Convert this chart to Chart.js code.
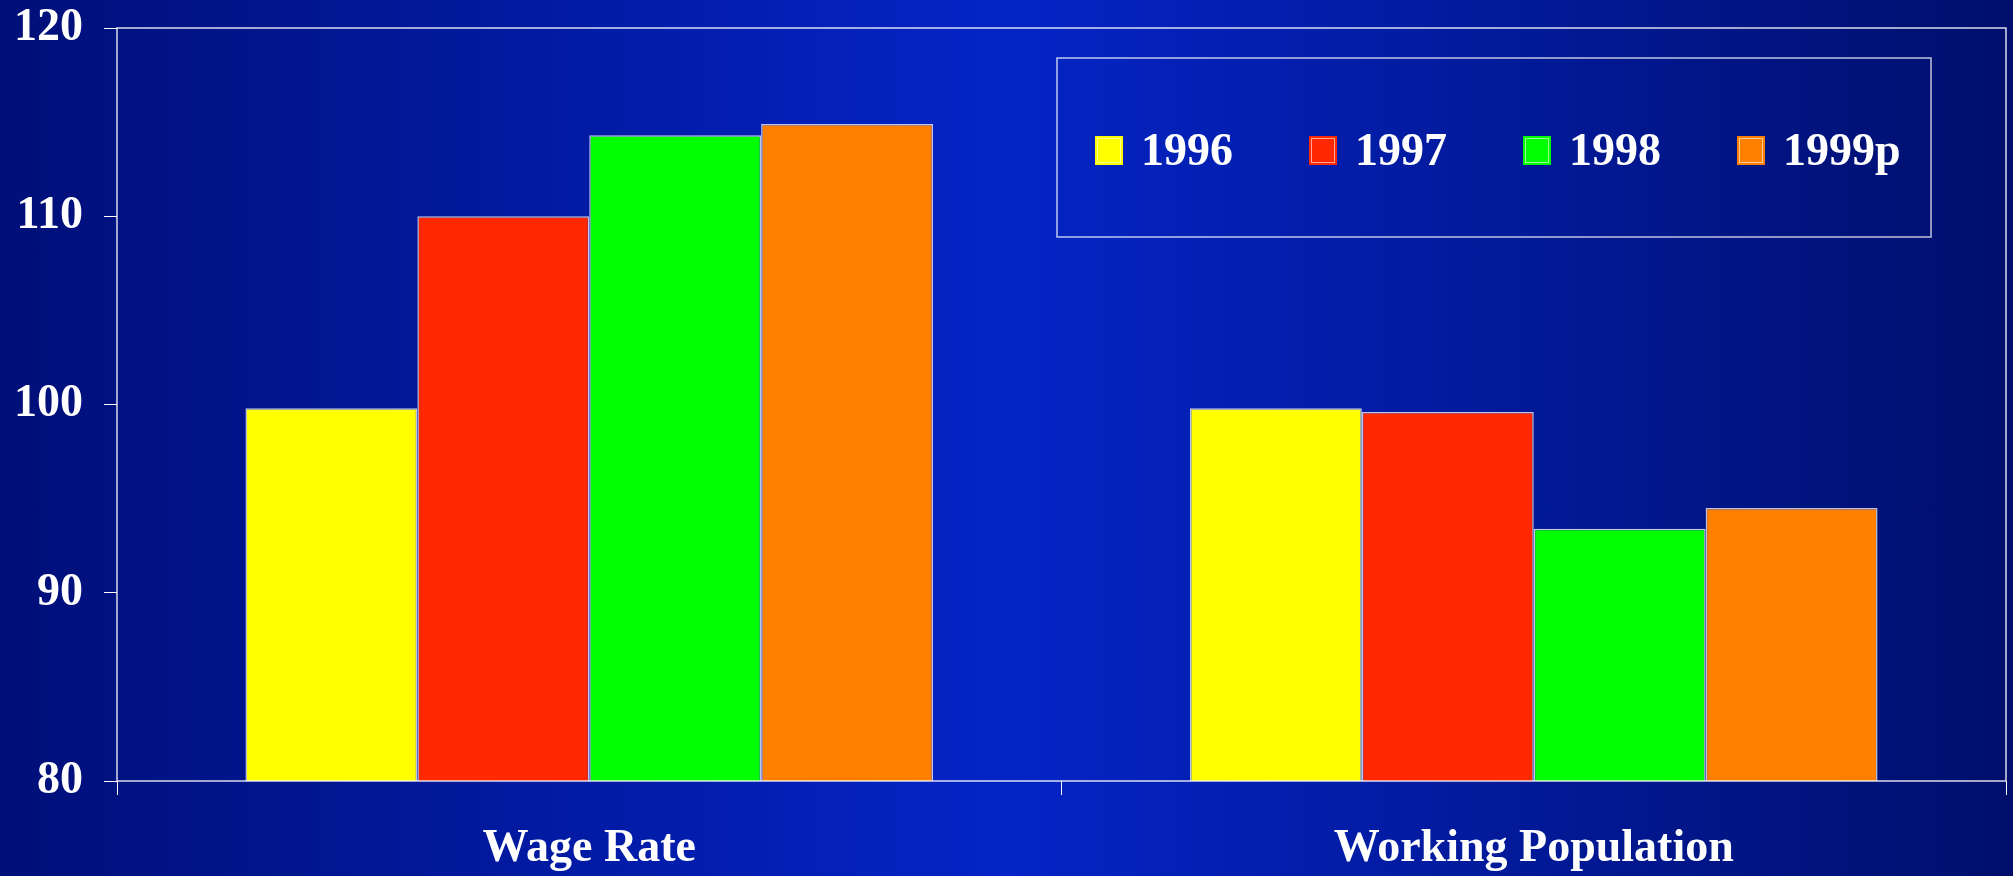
<!DOCTYPE html>
<html lang="en">

<head>
    <meta charset="UTF-8">
    <meta name="viewport" content="width=device-width, initial-scale=1.0">
    <script src="https://cdnjs.cloudflare.com/ajax/libs/Chart.js/4.4.1/chart.umd.min.js"></script>
    <title>Wage Rate and Working Population</title>
    <style>
        body { margin: 0; }
        #cvs {
            width: 2013px;
            height: 876px;
            background: linear-gradient(to right, #000f78 0%, #0424c6 50%, #000f6c 100%);
        }
    </style>
</head>

<body>
    <div id="cvs">
        <canvas id="myChart"></canvas>
    </div>
    <script>
        const categories = ['Wage Rate', 'Working Population'];
        const years = ['1996', '1997', '1998', '1999p'];
        const v1996 = [99.8, 99.8];
        const v1997 = [110.0, 99.6];
        const v1998 = [114.3, 93.4];
        const v1999 = [114.9, 94.5];
        const yTicks = [80, 90, 100, 110, 120];

        const colors = ['#ffff00', '#ff2800', '#00ff00', '#ff7f00'];
        const series = [v1996, v1997, v1998, v1999];
        const fontName = '"Liberation Serif", "Times New Roman", serif';

        // plot frame drawn over the bars, like the original
        const framePlugin = {
            id: 'frame',
            afterDatasetsDraw(chart) {
                const { ctx, chartArea: a } = chart;
                ctx.save();
                ctx.strokeStyle = 'rgba(255,255,255,0.85)';
                ctx.lineWidth = 1.5;
                ctx.strokeRect(a.left, a.top, a.right - a.left, a.bottom - a.top);
                ctx.restore();
            }
        };

        // boxed legend inside the plot area
        const boxLegend = {
            id: 'boxLegend',
            afterDraw(chart) {
                const { ctx, chartArea: a } = chart;
                const x0 = a.left + 940, y0 = a.top + 30, w = 874, h = 179;
                ctx.save();
                ctx.strokeStyle = 'rgba(255,255,255,0.75)';
                ctx.lineWidth = 1.5;
                ctx.strokeRect(x0, y0, w, h);
                ctx.font = 'bold 46px ' + fontName;
                ctx.textBaseline = 'alphabetic';
                chart.data.datasets.forEach((ds, i) => {
                    const x = x0 + 38 + i * 214;
                    const base = y0 + 107;
                    ctx.fillStyle = ds.backgroundColor;
                    ctx.fillRect(x, base - 29, 28, 29);
                    ctx.strokeStyle = 'rgba(255,255,255,0.6)';
                    ctx.lineWidth = 1;
                    ctx.strokeRect(x + 2.5, base - 26.5, 23, 24);
                    ctx.fillStyle = '#ffffff';
                    ctx.fillText(ds.label, x + 46, base);
                });
                ctx.restore();
            }
        };

        const ctx = document.getElementById('myChart').getContext('2d');
        const myChart = new Chart(ctx, {
            type: 'bar',
            data: {
                labels: categories,
                datasets: years.map((y, i) => ({
                    label: y,
                    data: series[i],
                    backgroundColor: colors[i],
                    borderColor: 'rgba(255,255,255,0.75)',
                    borderWidth: 1.5,
                    categoryPercentage: 0.728,
                    barPercentage: 1
                }))
            },
            options: {
                responsive: true,
                maintainAspectRatio: false,
                animation: false,
                layout: {
                    padding: { top: 28, left: 14, right: 7, bottom: 0 }
                },
                plugins: {
                    legend: { display: false },
                    tooltip: { enabled: false }
                },
                scales: {
                    x: {
                        offset: true,
                        border: { display: false },
                        grid: {
                            offset: true,
                            drawOnChartArea: false,
                            color: '#ffffff',
                            tickLength: 14
                        },
                        ticks: {
                            color: '#ffffff',
                            padding: 27,
                            font: { family: fontName, size: 46, weight: 'bold' }
                        },
                        afterFit(scale) {
                            scale.height = 95;
                        }
                    },
                    y: {
                        min: 80,
                        max: 120,
                        afterBuildTicks(axis) {
                            axis.ticks = yTicks.map(v => ({ value: v }));
                        },
                        border: { display: false },
                        grid: {
                            drawOnChartArea: false,
                            color: '#ffffff',
                            tickLength: 13
                        },
                        ticks: {
                            color: '#ffffff',
                            padding: 21,
                            font: { family: fontName, size: 46, weight: 'bold' }
                        },
                        afterFit(scale) {
                            scale.width = 103;
                            scale.paddingTop = 0;
                            scale.paddingBottom = 0;
                        }
                    }
                }
            },
            plugins: [framePlugin, boxLegend]
        });
    </script>
</body>

</html>
